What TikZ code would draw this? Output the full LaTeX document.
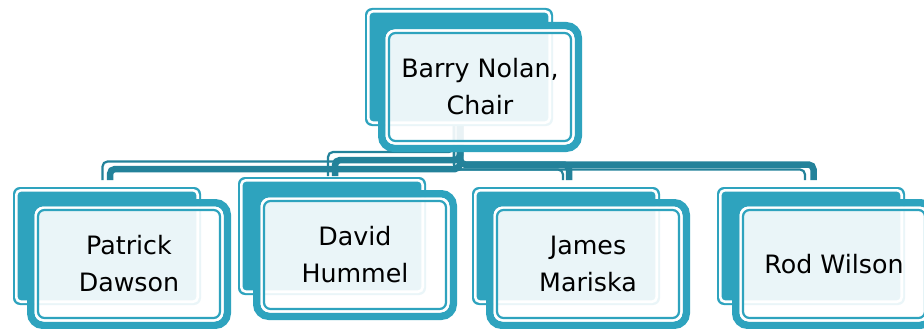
\documentclass[tikz,border=0pt]{standalone}
\usepackage{fontspec}
\setmainfont{DejaVu Sans}
\definecolor{boxteal}{RGB}{46,163,190}
\definecolor{connteal}{RGB}{35,130,154}
\tikzset{
  lbl/.style={align=center, font=\fontsize{25.3}{37}\selectfont, text=black, inner sep=0pt},
  thickc/.style={draw=connteal, line width=6.5pt, rounded corners=5pt},
  thinc/.style={draw=connteal, line width=2.2pt, rounded corners=5pt},
  backfill/.style={fill=boxteal, draw=boxteal, line width=2pt, rounded corners=6pt},
  backline/.style={draw=white, line width=2.6pt, rounded corners=4.5pt},
  frontouter/.style={fill=white, fill opacity=0.9, draw=boxteal, line width=7.5pt, rounded corners=12pt},
  frontwhite/.style={draw=white, line width=2.4pt, rounded corners=8pt},
  frontthin/.style={draw=boxteal, line width=2.2pt, rounded corners=6.5pt},
}
\newcommand\backbox[2]{%
  \filldraw[backfill] (#1+1,#2+1) rectangle ++(186,116);
  \draw[backline] (#1+3.3,#2+3.3) rectangle ++(181.4,111.4);
}
\newcommand\frontbox[2]{%
  \filldraw[frontouter] (#1+3.75,#2+3.75) rectangle ++(196.5,122.5);
  \draw[frontwhite] (#1+8.7,#2+8.7) rectangle ++(186.6,112.6);
  \draw[frontthin] (#1+11,#2+11) rectangle ++(182,108);
}
\begin{document}
\begin{tikzpicture}[x=1pt,y=-1pt]
\clip (0,0) rectangle (924,329);
\fill[white] (0,0) rectangle (924,329);
% connector anchors
\coordinate (sT) at (460,118);
\coordinate (st) at (454,118);
\coordinate (pT) at (110,180);   \coordinate (pt) at (102.5,180);
\coordinate (dT) at (335,176);   \coordinate (dt) at (328,176);
\coordinate (jT) at (569,180);   \coordinate (jt) at (563,180);
\coordinate (rT) at (813.5,180); \coordinate (rt) at (805,180);
% connectors: thin strands
\draw[thinc] (st) |- (102.5,161.5) -- (pt);
\draw[thinc] (st) |- (328,152) -- (dt);
\draw[thinc] (st) |- (563,169.5) -- (jt);
\draw[thinc] (st) |- (805,169.5) -- (rt);
% connectors: thick strands
\draw[thickc] (sT) |- (110,169) -- (pT);
\draw[thickc] (sT) |- (335,160) -- (dT);
\draw[thickc] (sT) |- (569,164.5) -- (jT);
\draw[thickc] (sT) |- (813.5,164.5) -- (rT);
% chair
\backbox{365}{8}
\frontbox{378}{22}
\node[lbl] (chair) at (480,87) {Barry Nolan,\\Chair};
% Patrick
\backbox{13}{187}
\frontbox{27}{199}
\node[lbl] (patrick) at (129,264) {Patrick\\Dawson};
% David
\backbox{238}{177}
\frontbox{253}{190}
\node[lbl] (david) at (355,255) {David\\Hummel};
% James
\backbox{472}{187}
\frontbox{486}{199}
\node[lbl] (james) at (588,264) {James\\Mariska};
% Rod
\backbox{717}{187}
\frontbox{732}{199}
\node[lbl] (rod) at (834,264) {Rod Wilson};
\end{tikzpicture}
\end{document}
